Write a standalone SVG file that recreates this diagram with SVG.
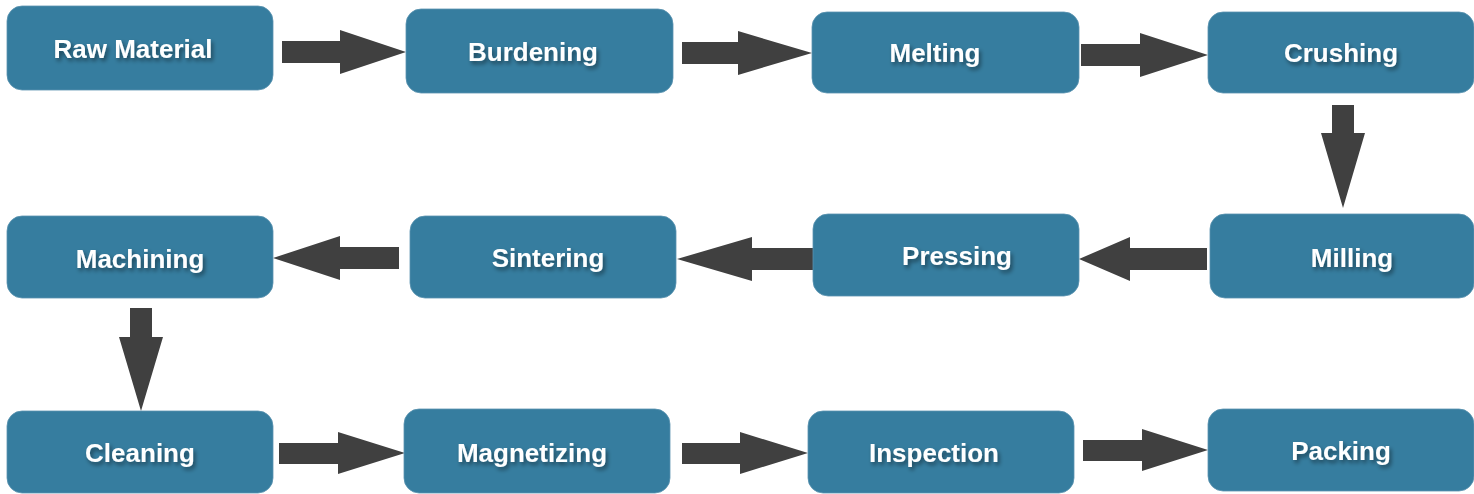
<svg xmlns="http://www.w3.org/2000/svg" width="1474" height="494" viewBox="0 0 1474 494">
<defs>
<filter id="ts" x="-10%" y="-30%" width="130%" height="180%">
<feDropShadow dx="2" dy="3" stdDeviation="2" flood-color="#000" flood-opacity="0.45"/>
</filter>
<style>
.box{fill:#367d9f;stroke:#5a93b0;stroke-width:0.8}
.lbl{font-family:"Liberation Sans",Arial,sans-serif;font-weight:bold;font-size:26px;fill:#fff;text-anchor:middle;filter:url(#ts)}
.arr{fill:#404040}
</style>
</defs>
<rect width="1474" height="494" fill="#fff"/>
<g id="connectors">
<polygon class="arr" points="282,41 340,41 340,30 406,52 340,74 340,63 282,63"/>
<polygon class="arr" points="682,42 738,42 738,31 812,53 738,75 738,64 682,64"/>
<polygon class="arr" points="1081,44 1140,44 1140,33 1208,55 1140,77 1140,66 1081,66"/>
<polygon class="arr" points="1332,105 1354,105 1354,133 1365,133 1343,208 1321,133 1332,133"/>
<polygon class="arr" points="1207,248 1130,248 1130,237 1079,259 1130,281 1130,270 1207,270"/>
<polygon class="arr" points="813,248 752,248 752,237 677,259 752,281 752,270 813,270"/>
<polygon class="arr" points="399,247 340,247 340,236 273,258 340,280 340,269 399,269"/>
<polygon class="arr" points="130,308 152,308 152,337 163,337 141,411 119,337 130,337"/>
<polygon class="arr" points="279,443 338,443 338,432 405,453 338,474 338,464 279,464"/>
<polygon class="arr" points="682,443 740,443 740,432 808,453 740,474 740,464 682,464"/>
<polygon class="arr" points="1083,440 1142,440 1142,429 1208,450 1142,471 1142,461 1083,461"/>
</g>
<g id="raw-material"><rect class="box" x="7" y="6" width="266" height="84" rx="15"/><text class="lbl" x="133" y="58">Raw Material</text></g>
<g id="burdening"><rect class="box" x="406" y="9" width="267" height="84" rx="15"/><text class="lbl" x="533" y="61">Burdening</text></g>
<g id="melting"><rect class="box" x="812" y="12" width="267" height="81" rx="15"/><text class="lbl" x="935" y="62">Melting</text></g>
<g id="crushing"><rect class="box" x="1208" y="12" width="266" height="81" rx="15"/><text class="lbl" x="1341" y="62">Crushing</text></g>
<g id="machining"><rect class="box" x="7" y="216" width="266" height="82" rx="15"/><text class="lbl" x="140" y="268">Machining</text></g>
<g id="sintering"><rect class="box" x="410" y="216" width="266" height="82" rx="15"/><text class="lbl" x="548" y="267">Sintering</text></g>
<g id="pressing"><rect class="box" x="813" y="214" width="266" height="82" rx="15"/><text class="lbl" x="957" y="265">Pressing</text></g>
<g id="milling"><rect class="box" x="1210" y="214" width="264" height="84" rx="15"/><text class="lbl" x="1352" y="267">Milling</text></g>
<g id="cleaning"><rect class="box" x="7" y="411" width="266" height="82" rx="15"/><text class="lbl" x="140" y="462">Cleaning</text></g>
<g id="magnetizing"><rect class="box" x="404" y="409" width="266" height="84" rx="15"/><text class="lbl" x="532" y="462">Magnetizing</text></g>
<g id="inspection"><rect class="box" x="808" y="411" width="266" height="82" rx="15"/><text class="lbl" x="934" y="462">Inspection</text></g>
<g id="packing"><rect class="box" x="1208" y="409" width="266" height="82" rx="15"/><text class="lbl" x="1341" y="460">Packing</text></g>
</svg>
